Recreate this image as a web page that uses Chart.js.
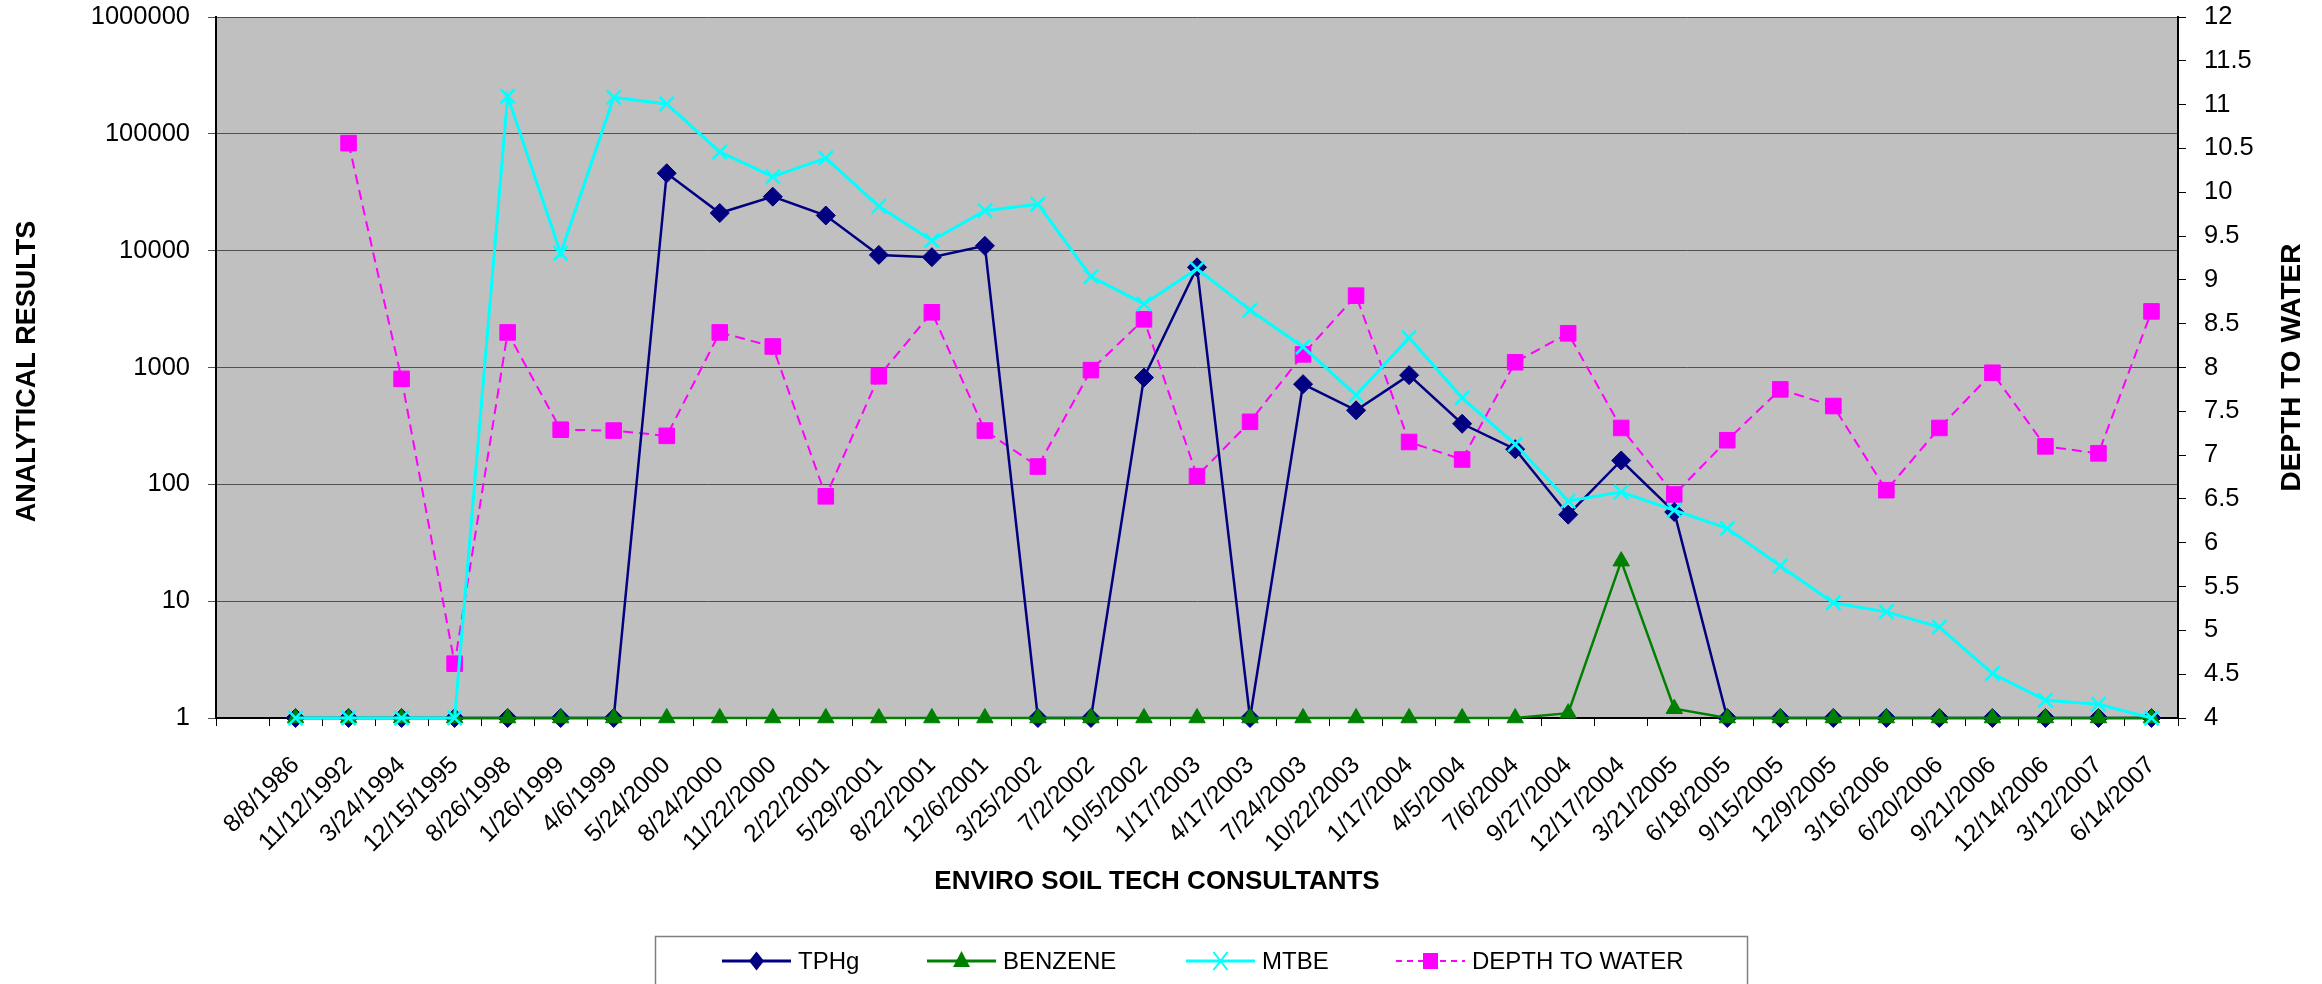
<!DOCTYPE html>
<html>
<head>
<meta charset="utf-8">
<title>Analytical results</title>
<script src="https://cdn.jsdelivr.net/npm/chart.js"></script>
<style>
  html, body { margin: 0; padding: 0; background: #fff; }
  canvas { display: block; }
</style>
</head>
<body>
<canvas id="resultsChart" width="2322" height="984"></canvas>
<script>
// first slot of the category axis is empty in the original sheet
const sampleDates = ['', '8/8/1986', '11/12/1992', '3/24/1994', '12/15/1995', '8/26/1998', '1/26/1999',
  '4/6/1999', '5/24/2000', '8/24/2000', '11/22/2000', '2/22/2001', '5/29/2001', '8/22/2001',
  '12/6/2001', '3/25/2002', '7/2/2002', '10/5/2002', '1/17/2003', '4/17/2003', '7/24/2003',
  '10/22/2003', '1/17/2004', '4/5/2004', '7/6/2004', '9/27/2004', '12/17/2004', '3/21/2005',
  '6/18/2005', '9/15/2005', '12/9/2005', '3/16/2006', '6/20/2006', '9/21/2006', '12/14/2006',
  '3/12/2007', '6/14/2007'];

const tphg = [null, 1, 1, 1, 1, 1, 1, 1, 46000, 21000, 29000, 20000, 9200, 8800, 11000, 1, 1,
  820, 7200, 1, 720, 430, 860, 330, 200, 55, 160, 58, 1, 1, 1, 1, 1, 1, 1, 1, 1];

const benzene = [null, 1, 1, 1, 1, 1, 1, 1, 1, 1, 1, 1, 1, 1, 1, 1, 1, 1, 1, 1, 1, 1, 1, 1, 1,
  1.1, 22, 1.2, 1, 1, 1, 1, 1, 1, 1, 1, 1];

const mtbe = [null, 1, 1, 1, 1, 210000, 9500, 205000, 180000, 70000, 43000, 62000, 24000, 12200,
  22000, 25000, 6000, 3500, 7000, 3100, 1500, 580, 1800, 550, 220, 72, 86, 60, 42, 20, 9.7, 8.1,
  6.0, 2.4, 1.42, 1.31, 1];

const depthToWater = [null, null, 10.56, 7.87, 4.62, 8.40, 7.29, 7.28, 7.22, 8.40, 8.24, 6.53,
  7.90, 8.63, 7.28, 6.87, 7.97, 8.55, 6.76, 7.38, 8.15, 8.82, 7.15, 6.95, 8.06, 8.39, 7.31, 6.55,
  7.17, 7.75, 7.56, 6.60, 7.31, 7.94, 7.10, 7.02, 8.64];

const resultTicks = [1, 10, 100, 1000, 10000, 100000, 1000000];
const depthTicks = [4, 4.5, 5, 5.5, 6, 6.5, 7, 7.5, 8, 8.5, 9, 9.5, 10, 10.5, 11, 11.5, 12];

const FONT = '"Liberation Sans", Arial, sans-serif';

const legendItems = [
  { label: 'TPHg', color: '#000080', marker: 'diamond', x: 722 },
  { label: 'BENZENE', color: '#008000', marker: 'triangle', x: 927 },
  { label: 'MTBE', color: '#00FFFF', marker: 'cross', x: 1186 },
  { label: 'DEPTH TO WATER', color: '#FF00FF', marker: 'square', x: 1396, dashed: true }
];

function drawMarker(ctx, type, x, y, color) {
  ctx.save();
  ctx.fillStyle = color;
  ctx.strokeStyle = color;
  ctx.beginPath();
  if (type === 'diamond') {
    ctx.moveTo(x, y - 9.5); ctx.lineTo(x + 7.5, y); ctx.lineTo(x, y + 9.5); ctx.lineTo(x - 7.5, y);
    ctx.closePath(); ctx.fill();
  } else if (type === 'triangle') {
    ctx.moveTo(x, y - 10); ctx.lineTo(x + 8.5, y + 6); ctx.lineTo(x - 8.5, y + 6);
    ctx.closePath(); ctx.fill();
  } else if (type === 'square') {
    ctx.fillRect(x - 7.5, y - 8, 15, 16);
  } else {
    ctx.lineWidth = 2;
    ctx.moveTo(x - 7, y - 9); ctx.lineTo(x + 7, y + 9);
    ctx.moveTo(x + 7, y - 9); ctx.lineTo(x - 7, y + 9);
    ctx.stroke();
  }
  ctx.restore();
}

// keep the plot box where the sheet has it, tick labels may hang over the edges
function fixVertical(width) {
  return scale => {
    scale.width = width;
    scale.paddingTop = 0;
    scale.paddingBottom = 0;
  };
}

const sheetDecor = {
  id: 'sheetDecor',
  beforeDraw(chart) {
    const { ctx, chartArea: a } = chart;
    ctx.save();
    ctx.fillStyle = '#fff';
    ctx.fillRect(0, 0, chart.width, chart.height);
    ctx.fillStyle = '#C0C0C0';
    ctx.fillRect(a.left, a.top, a.right - a.left, a.bottom - a.top);
    ctx.restore();
  },
  afterDraw(chart) {
    const { ctx, chartArea: a } = chart;
    const midY = (a.top + a.bottom) / 2;
    ctx.save();
    ctx.fillStyle = '#000';
    ctx.textAlign = 'center';
    ctx.textBaseline = 'middle';

    ctx.font = 'bold 27px ' + FONT;
    ctx.save();
    ctx.translate(28, midY + 4);
    ctx.rotate(-Math.PI / 2);
    ctx.fillText('ANALYTICAL RESULTS', 0, 0);
    ctx.restore();

    ctx.font = 'bold 28px ' + FONT;
    ctx.save();
    ctx.translate(2292, midY);
    ctx.rotate(-Math.PI / 2);
    ctx.fillText('DEPTH TO WATER', 0, 0);
    ctx.restore();

    ctx.font = 'bold 26px ' + FONT;
    ctx.fillText('ENVIRO SOIL TECH CONSULTANTS', 1157, 882);

    // legend box
    ctx.strokeStyle = '#808080';
    ctx.lineWidth = 1.5;
    ctx.strokeRect(655.5, 936.5, 1092, 80);
    ctx.font = '24px ' + FONT;
    ctx.textAlign = 'left';
    const ly = 961;
    legendItems.forEach(item => {
      ctx.save();
      ctx.strokeStyle = item.color;
      ctx.lineWidth = item.dashed ? 2 : 3;
      ctx.setLineDash(item.dashed ? [6, 5] : []);
      ctx.beginPath();
      ctx.moveTo(item.x, ly);
      ctx.lineTo(item.x + 69, ly);
      ctx.stroke();
      ctx.restore();
      drawMarker(ctx, item.marker, item.x + 34.5, ly, item.color);
      ctx.fillStyle = '#000';
      ctx.fillText(item.label, item.x + 76, ly + 1);
    });
    ctx.restore();
  }
};

const ctx = document.getElementById('resultsChart').getContext('2d');
new Chart(ctx, {
  type: 'line',
  data: {
    labels: sampleDates,
    datasets: [
      {
        label: 'MTBE',
        data: mtbe,
        yAxisID: 'y',
        order: 0,
        borderColor: '#00FFFF',
        backgroundColor: '#00FFFF',
        borderWidth: 3,
        pointStyle: 'crossRot',
        pointRadius: 10,
        pointBorderWidth: 2.5,
        pointBorderColor: '#00FFFF'
      },
      {
        label: 'BENZENE',
        data: benzene,
        yAxisID: 'y',
        order: 1,
        borderColor: '#008000',
        backgroundColor: '#008000',
        borderWidth: 2.5,
        pointStyle: 'triangle',
        pointRadius: 9.5,
        pointBorderWidth: 1,
        pointBorderColor: '#008000'
      },
      {
        label: 'TPHg',
        data: tphg,
        yAxisID: 'y',
        order: 2,
        borderColor: '#000080',
        backgroundColor: '#000080',
        borderWidth: 2.5,
        pointStyle: 'rectRot',
        pointRadius: 9.5,
        pointBorderWidth: 1,
        pointBorderColor: '#000080'
      },
      {
        label: 'DEPTH TO WATER',
        data: depthToWater,
        yAxisID: 'y1',
        order: 3,
        borderColor: '#FF00FF',
        backgroundColor: '#FF00FF',
        borderWidth: 2,
        borderDash: [10, 6],
        pointStyle: 'rect',
        pointRadius: 11,
        pointBorderWidth: 1,
        pointBorderColor: '#FF00FF'
      }
    ]
  },
  options: {
    responsive: false,
    animation: false,
    devicePixelRatio: 1,
    layout: { autoPadding: false, padding: { top: 17, left: 0, right: 0, bottom: 0 } },
    elements: {
      line: { tension: 0 }
    },
    datasets: { line: { clip: false, spanGaps: false } },
    plugins: {
      legend: { display: false },
      tooltip: { enabled: false }
    },
    scales: {
      x: {
        offset: true,
        grid: { offset: true, drawOnChartArea: false, tickLength: 8, color: '#000', lineWidth: 1 },
        border: { color: '#000', width: 2 },
        ticks: {
          autoSkip: false,
          minRotation: 45,
          maxRotation: 45,
          color: '#000',
          padding: 25,
          font: { family: FONT, size: 24.5 }
        },
        afterFit: scale => {
          scale.height = 266;
          scale.paddingLeft = 0;
          scale.paddingRight = 0;
        }
      },
      y: {
        type: 'logarithmic',
        position: 'left',
        min: 1,
        max: 1000000,
        afterBuildTicks: scale => { scale.ticks = resultTicks.map(v => ({ value: v })); },
        grid: { color: '#505050', lineWidth: 1, tickLength: 8 },
        border: { color: '#000', width: 2 },
        ticks: {
          color: '#000',
          padding: 18,
          font: { family: FONT, size: 25.5 },
          callback: v => String(v)
        },
        afterFit: fixVertical(216)
      },
      y1: {
        type: 'linear',
        position: 'right',
        min: 4,
        max: 12,
        afterBuildTicks: scale => { scale.ticks = depthTicks.map(v => ({ value: v })); },
        grid: { drawOnChartArea: false, tickLength: 8, color: '#000' },
        border: { color: '#000', width: 2 },
        ticks: {
          color: '#000',
          padding: 18,
          font: { family: FONT, size: 25.5 },
          callback: v => String(v)
        },
        afterFit: fixVertical(144)
      }
    }
  },
  plugins: [sheetDecor]
});
</script>
</body>
</html>
